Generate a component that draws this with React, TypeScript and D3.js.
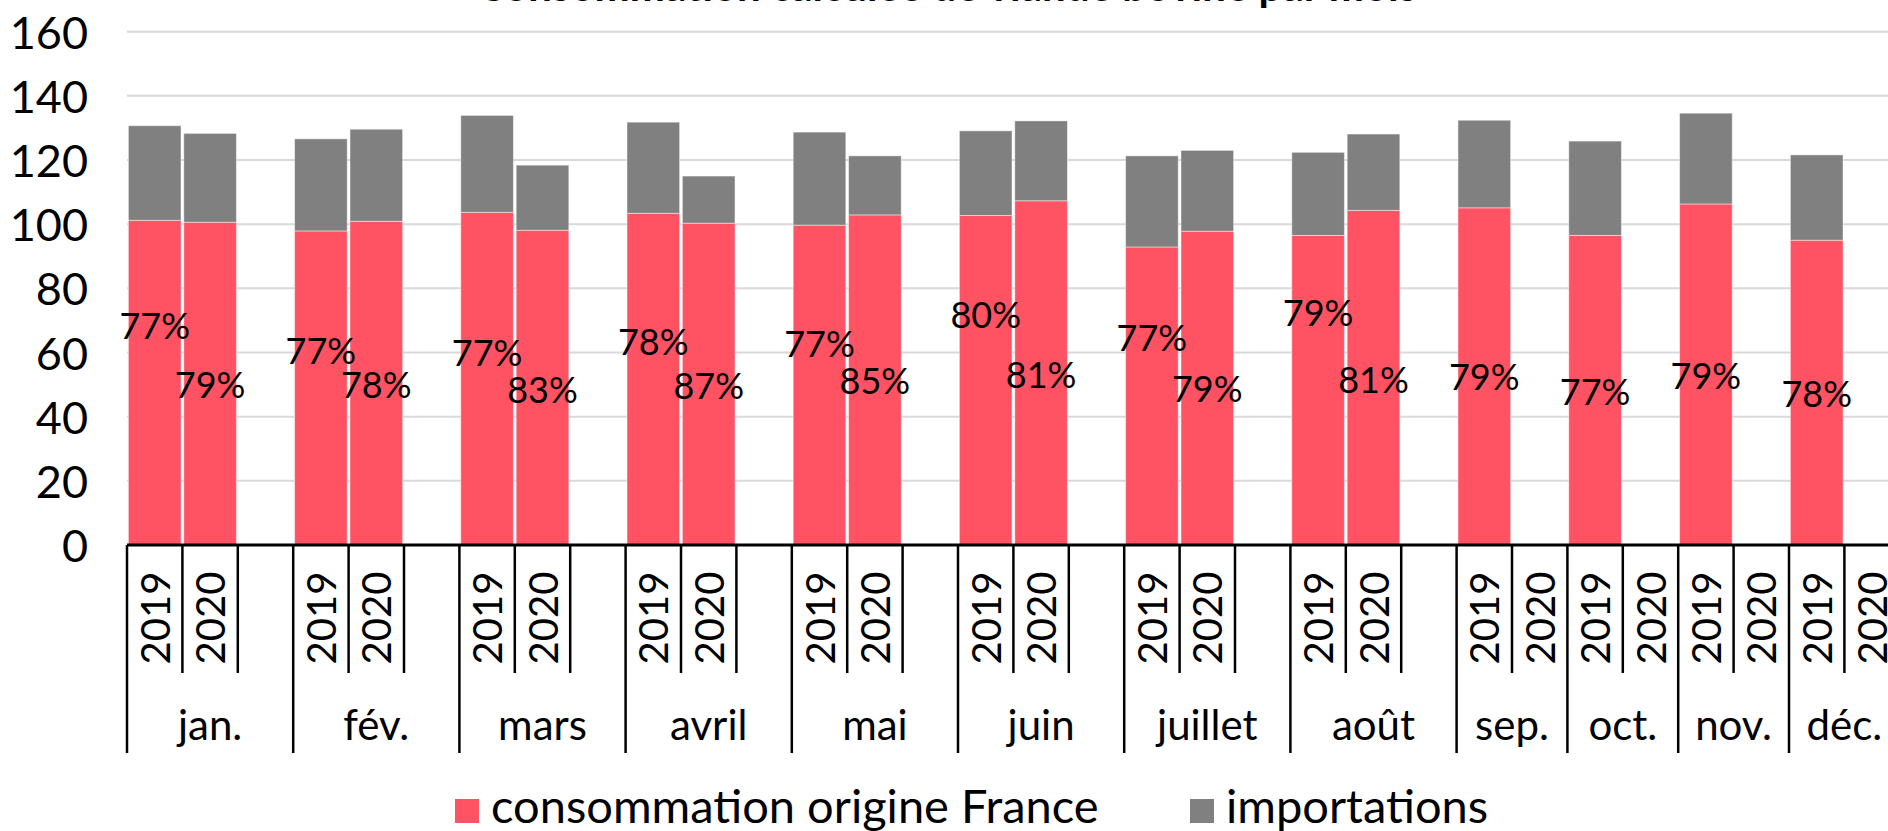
import React from 'react';
import * as d3 from 'd3';

// mois et années
const months = ['jan.', 'fév.', 'mars', 'avril', 'mai', 'juin', 'juillet', 'août', 'sep.', 'oct.', 'nov.', 'déc.'];
const years = ['2019', '2020'];

// volumes
const france2019 = [101.2, 97.9, 103.7, 103.4, 99.7, 102.7, 92.9, 96.5, 105.1, 96.5, 106.3, 95.0];
const imports2019 = [29.5, 28.7, 30.2, 28.4, 29.0, 26.4, 28.4, 25.9, 27.3, 29.4, 28.3, 26.6];
const france2020 = [100.6, 100.9, 98.1, 100.3, 102.9, 107.3, 97.8, 104.3];
const imports2020 = [27.7, 28.7, 20.3, 14.7, 18.4, 24.9, 25.2, 23.8];

// part origine France, et hauteur de l'étiquette (en unités de l'axe)
const share2019 = ['77%', '77%', '77%', '78%', '77%', '80%', '77%', '79%', '79%', '77%', '79%', '78%'];
const share2020 = ['79%', '78%', '83%', '87%', '85%', '81%', '79%', '81%'];
const labelAt2019 = [68.6, 60.9, 60.2, 63.6, 63.0, 72.0, 64.7, 72.5, 52.7, 48.1, 53.0, 47.5];
const labelAt2020 = [50.2, 50.2, 48.6, 49.9, 51.3, 53.3, 48.9, 51.7];

const yTicks = [0, 20, 40, 60, 80, 100, 120, 140, 160];

const seriesNames = ['consommation origine France', 'importations'];
const colors = ['#FF5263', '#808080'];

const title = 'Consommation calculée de viande bovine par mois';

const width = 1888;
const height = 831;
const font = 'Lato, "Open Sans", sans-serif';

export default function App() {
  // slots: 2019, 2020, plus a blank one while 2020 has data
  const slots: { key: string; month: number; year: string | null }[] = [];
  months.forEach((m, i) => {
    years.forEach((y) => slots.push({ key: `${i}-${y}`, month: i, year: y }));
    if (i < france2020.length) slots.push({ key: `${i}-blank`, month: i, year: null });
  });

  const left = 127;
  const step = 55.4;
  const x = d3.scaleBand<string>()
    .domain(slots.map((s) => s.key))
    .range([left, left + slots.length * step])
    .paddingInner(0.05)
    .paddingOuter(0.025);

  const y = d3.scaleLinear().domain([0, 160]).range([545, 31.7]);

  const bars: { key: string; fr: number; imp: number; label: string; at: number }[] = [];
  months.forEach((m, i) => {
    bars.push({ key: `${i}-2019`, fr: france2019[i], imp: imports2019[i], label: share2019[i], at: labelAt2019[i] });
    if (i < france2020.length) {
      bars.push({ key: `${i}-2020`, fr: france2020[i], imp: imports2020[i], label: share2020[i], at: labelAt2020[i] });
    }
  });

  const stack = d3.stack<any>().keys(['fr', 'imp'])(bars);

  const bw = x.bandwidth();
  const slotStart = (k: string) => (x(k) as number) - (step - bw) / 2;

  // month boundaries
  const monthStart = months.map((m, i) => slotStart(`${i}-2019`));
  const monthEnd = months.map((m, i) =>
    i < months.length - 1 ? monthStart[i + 1] : slotStart(`${i}-2020`) + step);

  return (
    <svg width={width} height={height} style={{ position: 'absolute', left: 0, top: 0, background: '#fff' }}
      fontFamily={font}>
      <text x={947} y={1} textAnchor="middle" fontSize={42} fontWeight={700}>{title}</text>

      {yTicks.filter((t) => t > 0).map((t) => (
        <line key={t} x1={left} x2={width} y1={y(t)} y2={y(t)} stroke="#d9d9d9" strokeWidth={2} />
      ))}
      {yTicks.map((t) => (
        <text key={t} x={88} y={y(t)} textAnchor="end" dominantBaseline="central" fontSize={45}>{t}</text>
      ))}

      {stack.map((layer, li) => (
        <g key={li} fill={colors[li]}>
          {layer.map((d) => (
            <rect key={d.data.key} x={x(d.data.key)} width={bw} y={y(d[1])} height={y(d[0]) - y(d[1])}
              stroke="#ffffff" strokeOpacity={0.45} strokeWidth={1} />
          ))}
        </g>
      ))}

      {bars.map((b) => (
        <text key={b.key} x={(x(b.key) as number) + bw / 2} y={y(b.at)} textAnchor="middle"
          dominantBaseline="central" fontSize={36}>{b.label}</text>
      ))}

      {/* category axis */}
      <line x1={left} x2={width} y1={y(0)} y2={y(0)} stroke="#000" strokeWidth={3} />
      {months.map((m, i) => (
        <line key={m} x1={monthStart[i]} x2={monthStart[i]} y1={y(0)} y2={753} stroke="#000" strokeWidth={2.5} />
      ))}
      {slots.filter((s) => s.year).map((s) => {
        const end = slotStart(s.key) + step;
        const isMonthEnd = Math.abs(end - monthEnd[s.month]) < 1;
        return isMonthEnd ? null : (
          <line key={s.key} x1={end} x2={end} y1={y(0)} y2={673} stroke="#000" strokeWidth={2.5} />
        );
      })}
      {slots.filter((s) => s.year).map((s) => {
        const cx = (x(s.key) as number) + bw / 2;
        return (
          <text key={s.key} transform={`translate(${cx},618) rotate(-90)`} textAnchor="middle"
            dominantBaseline="central" fontSize={40}>{s.year}</text>
        );
      })}
      {months.map((m, i) => (
        <text key={m} x={(monthStart[i] + monthEnd[i]) / 2} y={740} textAnchor="middle" fontSize={42}>{m}</text>
      ))}

      {/* legend */}
      {seriesNames.map((n, i) => {
        const lx = [455, 1190][i];
        return (
          <g key={n}>
            <rect x={lx} y={799} width={24} height={24} fill={colors[i]} />
            <text x={lx + 36} y={823} fontSize={47}>{n}</text>
          </g>
        );
      })}
    </svg>
  );
}
